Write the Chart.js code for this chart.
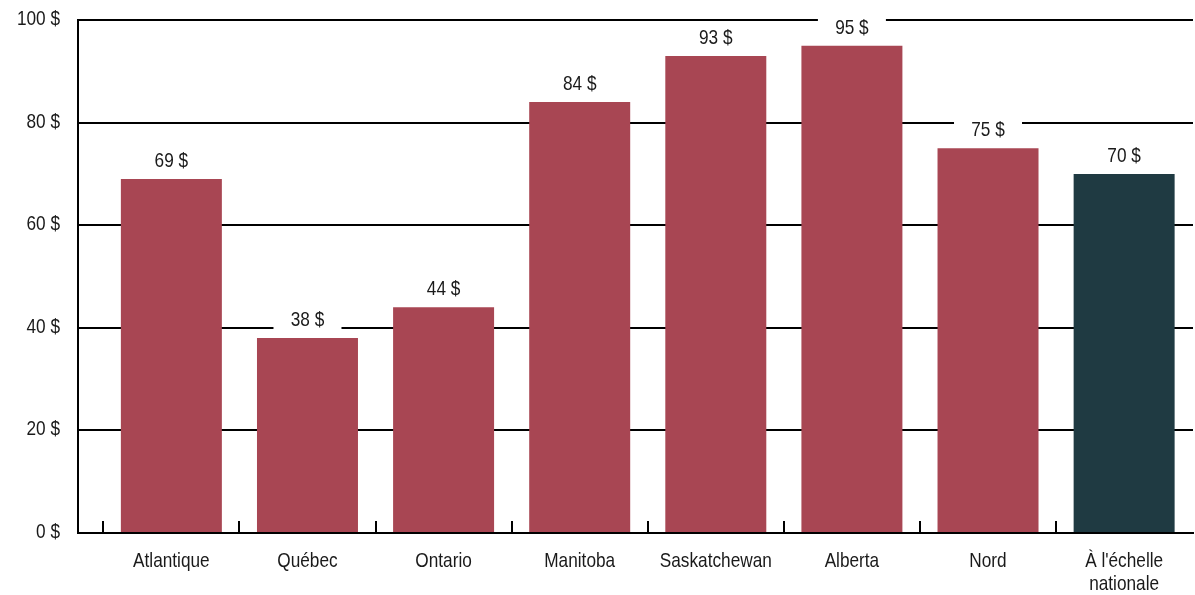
<!DOCTYPE html>
<html>
<head>
<meta charset="utf-8">
<script src="https://cdn.jsdelivr.net/npm/chart.js@4/dist/chart.umd.min.js"></script>
<style>
  html, body { margin: 0; padding: 0; background: #ffffff; }
  #wrap { width: 1195px; height: 595px; position: relative; }
</style>
</head>
<body>
<div id="wrap"><canvas id="c" width="1195" height="595"></canvas></div>
<script>
// ---- data ----
const categories = ['Atlantique', 'Québec', 'Ontario', 'Manitoba', 'Saskatchewan', 'Alberta', 'Nord', ["À l'échelle", 'nationale']];
const values = [69, 38, 44, 84, 93, 95, 75, 70];
const yTicks = [0, 20, 40, 60, 80, 100];
const valueSuffix = ' $';

// ---- styles ----
const RED = '#A84653';
const DARK = '#1F3A42';
const barColors = values.map((v, i) => i === values.length - 1 ? DARK : RED);
const FONT = "'Liberation Sans', Arial, sans-serif";
const FONT_SIZE = 21;
const NARROW = 0.82;
const TEXT = '#1a1a1a';

const points = values.map((v, i) => ({ x: i, y: v }));

function narrowText(ctx, text, x, y, align) {
  ctx.save();
  ctx.translate(x, y);
  ctx.scale(NARROW, 1);
  ctx.textAlign = align;
  ctx.textBaseline = 'alphabetic';
  ctx.fillText(text, 0, 0);
  ctx.restore();
}

const labelPlugin = {
  id: 'narrowLabels',
  afterDatasetsDraw(chart) {
    const ctx = chart.ctx;
    const meta = chart.getDatasetMeta(0);
    ctx.save();
    ctx.font = FONT_SIZE + 'px ' + FONT;
    meta.data.forEach((bar, i) => {
      const x = bar.x, y = bar.y;
      ctx.fillStyle = '#ffffff';
      ctx.fillRect(x - 34, y - 34, 68, 28);
      ctx.fillStyle = TEXT;
      narrowText(ctx, values[i] + valueSuffix, x, y - 12, 'center');
    });
    ctx.restore();
  },
  afterDraw(chart) {
    const ctx = chart.ctx;
    const xs = chart.scales.x, ys = chart.scales.y;
    ctx.save();
    ctx.font = FONT_SIZE + 'px ' + FONT;
    ctx.fillStyle = TEXT;
    yTicks.forEach(v => {
      narrowText(ctx, v + valueSuffix, ys.right - 18, ys.getPixelForValue(v) + 5, 'right');
    });
    categories.forEach((c, i) => {
      const lines = Array.isArray(c) ? c : [c];
      const px = xs.getPixelForValue(i);
      lines.forEach((ln, k) => {
        narrowText(ctx, ln, px, xs.top + 34 + k * 23, 'center');
      });
    });
    ctx.restore();
  }
};

new Chart(document.getElementById('c'), {
  type: 'bar',
  data: {
    datasets: [{
      data: points,
      backgroundColor: barColors,
      borderWidth: 0,
      categoryPercentage: 1,
      barPercentage: 0.742
    }]
  },
  options: {
    responsive: false,
    animation: false,
    devicePixelRatio: 1,
    layout: { padding: { top: 20, right: 2, left: 0, bottom: 0 } },
    plugins: { legend: { display: false }, tooltip: { enabled: false } },
    scales: {
      x: {
        type: 'linear',
        offset: false,
        bounds: 'data',
        min: -0.686,
        max: 7.506,
        afterBuildTicks(scale) {
          scale.ticks = categories.map((c, i) => ({ value: i }));
        },
        afterFit(scale) { scale.height = 62; },
        grid: {
          offset: true,
          drawOnChartArea: false,
          drawTicks: true,
          tickLength: -12,
          lineWidth: 2,
          color: (ctx) => (ctx.type === 'tick' && ctx.index < categories.length ? '#000000' : 'rgba(0,0,0,0)')
        },
        border: { display: true, color: '#000000', width: 2 },
        ticks: { display: false }
      },
      y: {
        min: 0,
        max: 100,
        afterBuildTicks(scale) {
          scale.ticks = yTicks.map(v => ({ value: v }));
        },
        afterFit(scale) { scale.width = 78; },
        grid: { color: '#000000', lineWidth: 2, drawTicks: false },
        border: { display: true, color: '#000000', width: 2 },
        ticks: { display: false }
      }
    }
  },
  plugins: [labelPlugin]
});
</script>
</body>
</html>
